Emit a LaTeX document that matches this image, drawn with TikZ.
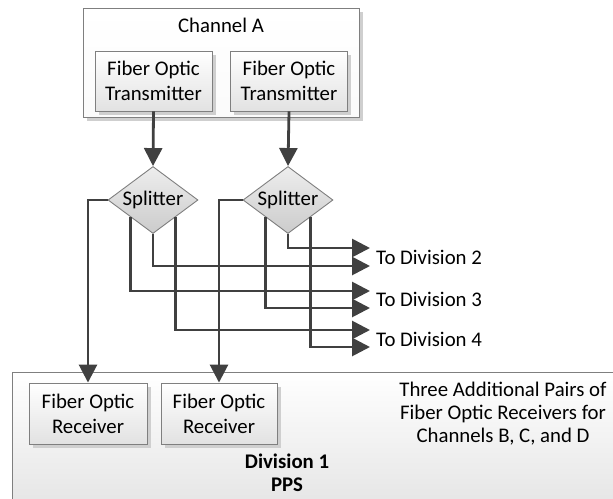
\documentclass[tikz,border=0pt]{standalone}
\usepackage{fontspec}
\setmainfont{Carlito}
\usetikzlibrary{shapes.geometric,arrows.meta,shadows}
\definecolor{boxgray}{HTML}{7F7F7F}
\definecolor{fillgray}{HTML}{E2E2E2}
\definecolor{shadowgray}{HTML}{CFCFCF}
\definecolor{linegray}{HTML}{404040}
\begin{document}
\begin{tikzpicture}[x=1pt,y=-1pt,
  every node/.style={font=\fontsize{20.8}{25}\selectfont, text=black},
  box/.style={draw=boxgray, line width=0.9pt, top color=white, bottom color=fillgray,
    drop shadow={shadow xshift=3.5pt, shadow yshift=-3.5pt, fill=shadowgray, opacity=1},
    align=center, inner sep=0pt},
  container/.style={draw=boxgray, line width=0.9pt, top color=white, bottom color=white!85!fillgray,
    drop shadow={shadow xshift=3.5pt, shadow yshift=-3.5pt, fill=shadowgray, opacity=1}, inner sep=0pt},
  divbox/.style={draw=boxgray, line width=0.9pt, top color=white, bottom color=fillgray, inner sep=0pt},
  splitter/.style={diamond, aspect=1.34, draw=boxgray, line width=0.9pt, top color=white!40!fillgray,
    bottom color=fillgray!90!black, inner sep=0pt, minimum width=90pt, minimum height=67pt},
  conn/.style={draw=linegray, line width=2.8pt, -{Triangle[length=18pt,width=18pt]}},
  lbl/.style={anchor=west, inner sep=0pt}
]
\useasboundingbox (0,0) rectangle (613,498);
\clip (0,0) rectangle (613,498);
% Division 1 container
\node[divbox, anchor=north west, minimum width=640pt, minimum height=150pt] (div1) at (12,372) {};
% Channel A container
\node[container, minimum width=276pt, minimum height=109pt] (chA) at (221,63) {};
\node (chAt) at (221,25) {Channel A};
% transmitters
\node[box, minimum width=117pt, minimum height=60pt] (t1) at (153.5,81) {Fiber Optic\\Transmitter};
\node[box, minimum width=117pt, minimum height=60pt] (t2) at (289,81) {Fiber Optic\\Transmitter};
% splitters
\node[splitter] (d1) at (153,200) {Splitter};
\node[splitter] (d2) at (288,200) {Splitter};
% receivers
\node[box, minimum width=118pt, minimum height=61pt] (r1) at (88,413.5) {Fiber Optic\\Receiver};
\node[box, minimum width=116pt, minimum height=61pt] (r2) at (219,413.5) {Fiber Optic\\Receiver};
% texts in division
\node[align=center, font=\fontsize{20.8}{23}\selectfont] (extra) at (503,414) {Three Additional Pairs of\\Fiber Optic Receivers for\\Channels B, C, and D};
\node[align=center, font=\fontsize{20.8}{23}\selectfont\bfseries] (divt) at (287,473) {Division 1\\PPS};
% arrow ends
\coordinate (e2a) at (370,248);
\coordinate (e2b) at (370,266);
\coordinate (e3a) at (370,291);
\coordinate (e3b) at (370,308);
\coordinate (e4a) at (370,330);
\coordinate (e4b) at (370,347);
% labels
\node[lbl] (l2) at (376,257) {To Division 2};
\node[lbl] (l3) at (376,299) {To Division 3};
\node[lbl] (l4) at (376,339) {To Division 4};
% connectors
\draw[conn] (t1.south) -- (d1.north);
\draw[conn] (t2.south) -- (d2.north);
\draw[conn] (d1.west) -| (r1.north);
\draw[conn] (d2.west) -| (r2.north);
\draw[conn] (d1.south) |- (e2b);
\draw[conn] (d1.south west) |- (e3a);
\draw[conn] (d1.south east) |- (e4a);
\draw[conn] (d2.south) |- (e2a);
\draw[conn] (d2.south west) |- (e3b);
\draw[conn] (d2.south east) |- (e4b);
\end{tikzpicture}
\end{document}
